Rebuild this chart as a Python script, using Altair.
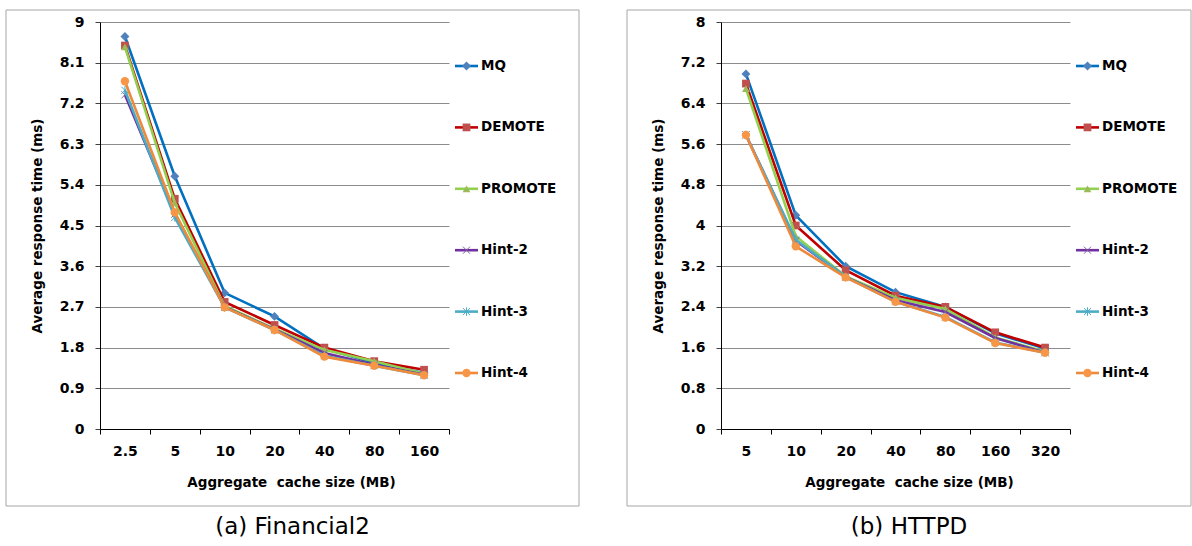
import altair as alt
import pandas as pd

# ---------------- data ----------------
series = ["MQ", "DEMOTE", "PROMOTE", "Hint-2", "Hint-3", "Hint-4"]

sizes_a = ["2.5", "5", "10", "20", "40", "80", "160"]
fin_mq = [8.68, 5.59, 3.01, 2.49, 1.78, 1.46, 1.24]
fin_demote = [8.48, 5.09, 2.81, 2.30, 1.80, 1.50, 1.31]
fin_promote = [8.45, 5.00, 2.72, 2.22, 1.75, 1.50, 1.22]
fin_hint2 = [7.39, 4.75, 2.70, 2.20, 1.68, 1.42, 1.20]
fin_hint3 = [7.49, 4.68, 2.69, 2.19, 1.62, 1.40, 1.19]
fin_hint4 = [7.69, 4.79, 2.69, 2.19, 1.60, 1.40, 1.19]

sizes_b = ["5", "10", "20", "40", "80", "160", "320"]
http_mq = [6.98, 4.20, 3.20, 2.69, 2.40, 1.88, 1.58]
http_demote = [6.79, 4.00, 3.12, 2.62, 2.40, 1.90, 1.60]
http_promote = [6.69, 3.79, 3.00, 2.58, 2.36, 1.80, 1.52]
http_hint2 = [5.78, 3.70, 2.99, 2.53, 2.30, 1.79, 1.50]
http_hint3 = [5.78, 3.72, 2.99, 2.50, 2.20, 1.70, 1.50]
http_hint4 = [5.78, 3.59, 2.98, 2.50, 2.19, 1.69, 1.50]

yticks_a = [0, 0.9, 1.8, 2.7, 3.6, 4.5, 5.4, 6.3, 7.2, 8.1, 9]
yticks_b = [0, 0.8, 1.6, 2.4, 3.2, 4, 4.8, 5.6, 6.4, 7.2, 8]

captions = ["(a) Financial2", "(b) HTTPD"]
x_title = "Aggregate\u00a0 cache size (MB)"
y_title = "Average response time (ms)"

# ---------------- styles ----------------
line_colors = ["#0070C0", "#C00000", "#92D050", "#7030A0", "#4BACC6", "#EE8A3C"]
marker_colors = ["#4F81BD", "#C0504D", "#9BBB59", "#8064A2", "#4BACC6", "#F79646"]
X_PATH = "M-1,-1L1,1M-1,1L1,-1"
STAR_PATH = "M-1,-1L1,1M-1,1L1,-1M0,-1.2L0,1.2"
shapes = ["diamond", "square", "triangle-up", X_PATH, STAR_PATH, "circle"]
filled = [True, True, True, False, False, True]
msize = [80, 60, 60, 50, 50, 70]

FONT = "DejaVu Sans"
W, H = 349, 407
LEG_Y0, LEG_STEP = 44, 61.4


def panel(sizes, values, ymax, yticks, caption, frame_right, title_x):
    rows = []
    for s, vals in zip(series, values):
        for sz, v in zip(sizes, vals):
            rows.append({"size": sz, "series": s, "value": v})
    df = pd.DataFrame(rows)

    x = alt.X(
        "size:O",
        sort=sizes,
        bandPosition=0.5,
        scale=alt.Scale(type="band", domain=sizes, paddingInner=0, paddingOuter=0),
        axis=alt.Axis(
            title=x_title, labelAngle=0, tickBand="extent", tickSize=5,
            labelPadding=10, titlePadding=17, titleX=title_x,
            domainColor="black", tickColor="black", grid=False,
        ),
    )
    y = alt.Y(
        "value:Q",
        scale=alt.Scale(domain=[0, ymax], nice=False, zero=True),
        axis=alt.Axis(
            title=y_title, values=yticks, format=".1~f", tickSize=5,
            labelPadding=11, titlePadding=15, grid=True, gridColor="#8C8C8C",
            domainColor="black", tickColor="#404040",
        ),
    )

    layers = []
    frame = alt.Chart(pd.DataFrame({"k": [0]})).mark_rect(
        fill="white", fillOpacity=0, stroke="#A6A6A6", strokeWidth=1
    ).encode(
        x=alt.value(-94), x2=alt.value(frame_right), y=alt.value(-12), y2=alt.value(484)
    )
    layers.append(frame)

    for i, s in enumerate(series):
        base = alt.Chart(df).transform_filter(alt.datum.series == s)
        layers.append(
            base.mark_line(color=line_colors[i], strokeWidth=2.6).encode(x=x, y=y)
        )
        if filled[i]:
            pm = base.mark_point(shape=shapes[i], filled=True, fill=marker_colors[i],
                                 size=msize[i], opacity=1)
        else:
            pm = base.mark_point(shape=shapes[i], filled=False, stroke=marker_colors[i],
                                 strokeWidth=1, size=msize[i], opacity=1)
        layers.append(pm.encode(x=x, y=y))

    # legend
    for i, s in enumerate(series):
        ly = LEG_Y0 + i * LEG_STEP
        ldf = pd.DataFrame({"series": [s]})
        lb = alt.Chart(ldf)
        layers.append(
            lb.mark_rule(color=line_colors[i], strokeWidth=2.6).encode(
                x=alt.value(355), x2=alt.value(378), y=alt.value(ly)
            )
        )
        if filled[i]:
            pm = lb.mark_point(shape=shapes[i], filled=True, fill=marker_colors[i],
                               size=msize[i], opacity=1)
        else:
            pm = lb.mark_point(shape=shapes[i], filled=False, stroke=marker_colors[i],
                               strokeWidth=1, size=msize[i], opacity=1)
        layers.append(pm.encode(x=alt.value(366.5), y=alt.value(ly)))
        layers.append(
            lb.mark_text(align="left", baseline="middle", font=FONT, fontWeight="bold",
                         fontSize=13.5, color="black").encode(
                x=alt.value(381), y=alt.value(ly), text="series:N"
            )
        )

    cap = alt.Chart(pd.DataFrame({"caption": [caption]})).mark_text(
        align="center", baseline="alphabetic", font=FONT, fontSize=23, color="black"
    ).encode(x=alt.value((frame_right - 94) / 2), y=alt.value(512), text="caption:N")
    layers.append(cap)

    return alt.layer(*layers).properties(width=W, height=H)


left = panel(sizes_a, [fin_mq, fin_demote, fin_promote, fin_hint2, fin_hint3, fin_hint4],
             9, yticks_a, captions[0], 479, 191)
right = panel(sizes_b, [http_mq, http_demote, http_promote, http_hint2, http_hint3, http_hint4],
              8, yticks_b, captions[1], 470, 188)

chart = alt.hconcat(left, right, spacing=46).properties(
    padding={"left": 5, "top": 9, "right": 0, "bottom": 0}
).configure_view(stroke=None).configure_axis(
    labelFont=FONT, labelFontWeight="bold", labelFontSize=14, labelColor="black",
    titleFont=FONT, titleFontWeight="bold", titleFontSize=13.5, titleColor="black",
    domainWidth=1, tickWidth=1, gridWidth=1,
)

chart.save("out.html", embed_options={"renderer": "svg", "actions": False})
